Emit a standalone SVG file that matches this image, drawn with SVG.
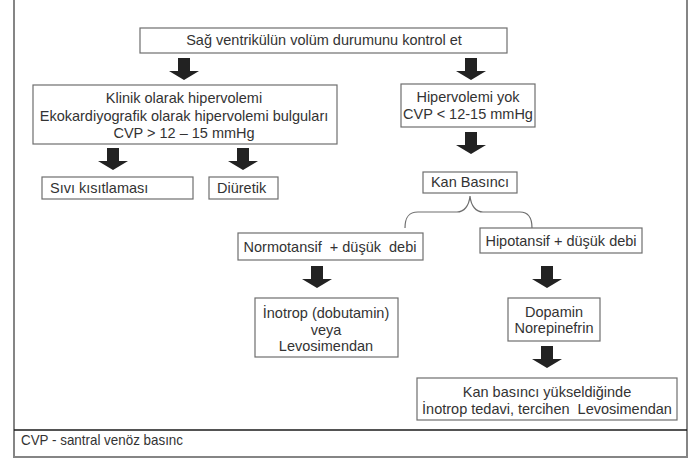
<svg xmlns="http://www.w3.org/2000/svg" width="695" height="459" viewBox="0 0 695 459">
  <style>
    .box { fill: #ffffff; stroke: #6e6e6e; stroke-width: 1.2; }
    .txt { font-family: "Liberation Sans", Arial, sans-serif; font-size: 14.5px; fill: #333333; text-anchor: middle; }
    .lt { text-anchor: start; }
    .arrow { fill: #222222; }
    .brace { fill: none; stroke: #6e6e6e; stroke-width: 1.2; }
    .frame { fill: none; stroke: #858585; stroke-width: 2; }
  </style>
  <defs>
    <!-- block arrow pointing down, tip at (0,0) -->
    <path id="blk" d="M-6,-22 H6 V-9 H15 L0,0 L-15,-9 H-6 Z"/>
  </defs>

  <rect width="695" height="459" fill="#ffffff"/>

  <!-- outer frame and footer divider -->
  <path class="frame" d="M14,0 V457 H687 V0"/>
  <line x1="14" y1="430" x2="687" y2="430" stroke="#1a1a1a" stroke-width="1.5"/>
  <text class="txt lt" x="21" y="445" font-size="15.5" textLength="162" lengthAdjust="spacingAndGlyphs">CVP - santral venöz basınc</text>

  <g id="n-start">
    <rect class="box" x="140" y="28" width="367" height="25"/>
    <text class="txt" x="324" y="45">Sağ ventrikülün volüm durumunu kontrol et</text>
  </g>

  <g id="n-hyper">
    <rect class="box" x="33" y="85" width="304" height="59"/>
    <text class="txt" x="184" y="103">Klinik olarak hipervolemi</text>
    <text class="txt" x="184" y="121">Ekokardiyografik olarak hipervolemi bulguları</text>
    <text class="txt" x="184" y="138">CVP &gt; 12 – 15 mmHg</text>
  </g>

  <g id="n-nohyper">
    <rect class="box" x="401" y="84" width="134" height="43"/>
    <text class="txt" x="468" y="102">Hipervolemi yok</text>
    <text class="txt" x="468" y="119">CVP &lt; 12-15 mmHg</text>
  </g>

  <g id="n-fluid">
    <rect class="box" x="42" y="177" width="151" height="22"/>
    <text class="txt lt" x="50" y="193">Sıvı kısıtlaması</text>
  </g>

  <g id="n-diuretic">
    <rect class="box" x="209" y="177" width="69" height="22"/>
    <text class="txt lt" x="217" y="193">Diüretik</text>
  </g>

  <g id="n-bp">
    <rect class="box" x="423" y="172" width="94" height="21"/>
    <text class="txt" x="470" y="187">Kan Basıncı</text>
  </g>

  <g id="n-normo">
    <rect class="box" x="238" y="233" width="185" height="27"/>
    <text class="txt" x="330" y="252" xml:space="preserve">Normotansif  + düşük  debi</text>
  </g>

  <g id="n-hypo">
    <rect class="box" x="480" y="228" width="162" height="25"/>
    <text class="txt" x="561" y="246">Hipotansif + düşük debi</text>
  </g>

  <g id="n-inotrop">
    <rect class="box" x="255" y="298" width="143" height="59"/>
    <text class="txt" x="326" y="318">İnotrop (dobutamin)</text>
    <text class="txt" x="326" y="335">veya</text>
    <text class="txt" x="326" y="351">Levosimendan</text>
  </g>

  <g id="n-dopamin">
    <rect class="box" x="508" y="298" width="92" height="43"/>
    <text class="txt" x="554" y="317">Dopamin</text>
    <text class="txt" x="554" y="333">Norepinefrin</text>
  </g>

  <g id="n-final">
    <rect class="box" x="417" y="378" width="260" height="42"/>
    <text class="txt" x="547" y="397">Kan basıncı yükseldiğinde</text>
    <text class="txt" x="547" y="414" xml:space="preserve">İnotrop tedavi, tercihen  Levosimendan</text>
  </g>

  <g id="connectors">
    <use href="#blk" class="arrow" x="184" y="80"/>
    <use href="#blk" class="arrow" x="471" y="80"/>
    <use href="#blk" class="arrow" x="113" y="170"/>
    <use href="#blk" class="arrow" x="243" y="170"/>
    <use href="#blk" class="arrow" x="471" y="154"/>
    <use href="#blk" class="arrow" x="317" y="288"/>
    <use href="#blk" class="arrow" x="547" y="288"/>
    <use href="#blk" class="arrow" x="547" y="368"/>
    <path class="brace" d="M405,228 C405,218 408,212 418,212 L457,212 C464,212 469,206 470,196 C471,206 476,212 483,212 L520,212 C529,212 532,218 532,228"/>
  </g>
</svg>
